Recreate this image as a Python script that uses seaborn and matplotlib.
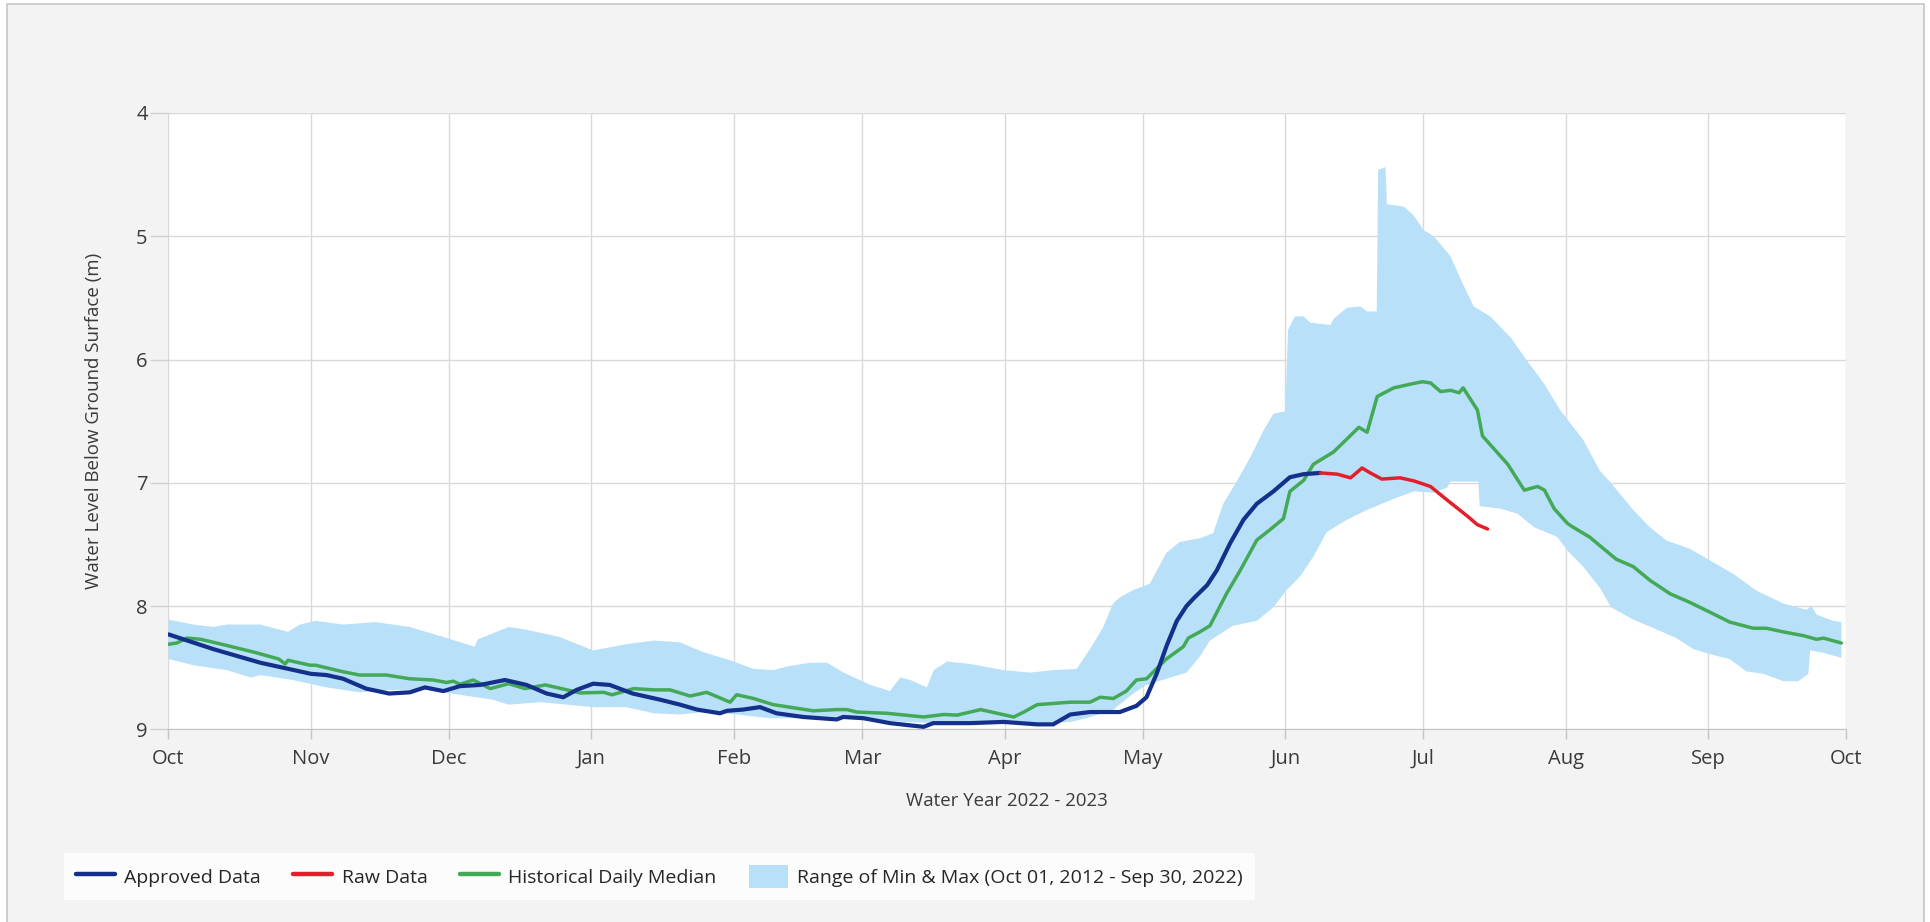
import numpy as np
import pandas as pd
import seaborn as sns
import matplotlib.pyplot as plt
from matplotlib.patches import Rectangle, Patch
from matplotlib.lines import Line2D

# day of water year (0 = Oct 01 2022) and level below ground (m)
approved_day = [0, 9.8, 20, 31, 34.4, 38, 43, 48, 52.5, 55.8, 59.8, 63.4, 67.8, 73.2, 77.9,
                82.3, 85.9, 88.8, 92.4, 96, 101, 107, 111.3, 115, 120, 121.5, 125, 128.7,
                132.3, 138.1, 145.4, 146.8, 151.2, 157, 164.3, 166.4, 174.4, 181.7, 189,
                192.5, 196.2, 200.5, 207, 210.6, 212.8, 215, 217.2, 219.4, 221.5, 223, 226,
                228.1, 231, 233.9, 236.8, 240.4, 244, 247, 250.6]
approved_lvl = [8.23, 8.35, 8.46, 8.55, 8.56, 8.59, 8.67, 8.71, 8.70, 8.66, 8.69, 8.65, 8.64,
                8.60, 8.64, 8.71, 8.74, 8.68, 8.63, 8.64, 8.71, 8.76, 8.80, 8.84, 8.87, 8.85,
                8.84, 8.82, 8.87, 8.90, 8.92, 8.90, 8.91, 8.95, 8.98, 8.95, 8.95, 8.94, 8.96,
                8.96, 8.88, 8.86, 8.86, 8.81, 8.74, 8.55, 8.32, 8.12, 8.00, 7.94, 7.83, 7.71,
                7.49, 7.30, 7.17, 7.07, 6.955, 6.93, 6.92]

raw_day = [250.6, 254.3, 257.2, 259.7, 261.5, 264, 268, 271, 274.6, 278.2, 282.6, 284.8, 287]
raw_lvl = [6.92, 6.93, 6.96, 6.88, 6.92, 6.97, 6.96, 6.985, 7.03, 7.14, 7.27, 7.34, 7.375]

median_day = [0, 1.8, 4, 7, 12.7, 19.2, 24, 25.4, 26, 30.8, 32, 37.6, 41.6, 47.4, 52.5, 57.6,
              60.5, 62, 63.4, 66.3, 70, 74, 77.6, 82, 86.7, 89.6, 94.7, 96.5, 101.2, 105.6,
              109.1, 113.5, 117.1, 122.2, 123.6, 127.3, 131.6, 140.3, 145.4, 147.6, 149.8,
              156.3, 164.3, 168.7, 171.6, 176.7, 183.9, 186.1, 189, 196.2, 200.5, 202.7,
              205.6, 208.4, 210.6, 212.8, 217.1, 220.8, 221.9, 224.4, 226.6, 230.2, 233.2,
              236.8, 239.7, 242.6, 244, 247, 249.1, 253.5, 256.4, 259, 260.8, 263, 266.6,
              270.2, 272.8, 274.6, 276.8, 279, 280.8, 281.7, 284.8, 285.9, 291.4, 295,
              297.9, 299.4, 301.5, 304.4, 305.6, 309.2, 315, 318.7, 322.3, 326.7, 331,
              335.4, 339.7, 344.8, 347.7, 351.4, 355.7, 358.6, 360.1, 364]
median_lvl = [8.31, 8.30, 8.26, 8.27, 8.32, 8.38, 8.43, 8.47, 8.44, 8.48, 8.48, 8.53, 8.56,
              8.56, 8.59, 8.60, 8.62, 8.61, 8.635, 8.60, 8.67, 8.63, 8.67, 8.64, 8.68, 8.705,
              8.70, 8.72, 8.67, 8.68, 8.68, 8.73, 8.70, 8.78, 8.72, 8.75, 8.80, 8.85, 8.84,
              8.84, 8.86, 8.87, 8.90, 8.88, 8.885, 8.84, 8.90, 8.86, 8.80, 8.78, 8.78, 8.74,
              8.75, 8.69, 8.60, 8.59, 8.43, 8.33, 8.26, 8.21, 8.16, 7.90, 7.71, 7.465, 7.38,
              7.29, 7.07, 6.98, 6.85, 6.75, 6.645, 6.55, 6.59, 6.30, 6.23, 6.20, 6.18, 6.19,
              6.26, 6.25, 6.27, 6.23, 6.41, 6.62, 6.85, 7.06, 7.03, 7.06, 7.21, 7.33, 7.36,
              7.44, 7.62, 7.68, 7.79, 7.90, 7.97, 8.05, 8.13, 8.18, 8.18, 8.21, 8.24, 8.27,
              8.26, 8.30]

# shallowest level of the 10-year record (top edge of band)
min_day = [0, 5.4, 9.8, 12.7, 20, 26, 28.6, 32, 38, 45, 52.5, 59.7, 66.6, 67.3, 74, 77.6, 85,
           92.4, 99.6, 105.6, 111.3, 116.4, 122.2, 127.3, 131.6, 134.6, 139.6, 143.3, 146.9,
           152.7, 157, 159.2, 161.4, 165, 166.5, 169.4, 174.4, 181.7, 187.5, 192.5, 197.6,
           200.5, 203.4, 205.5, 207, 209.9, 213.5, 217.1, 220, 224.4, 227.3, 229.5, 232.4,
           235.3, 238.2, 240.4, 243, 243.6, 245.1, 247, 248.4, 252.8, 253.5, 256.4, 259.3,
           260.8, 262.9, 263.2, 264.8, 265.1, 268.8, 270.9, 273.1, 275.3, 278.9, 281.8, 284,
           287.6, 292, 295.6, 299.2, 302.8, 305.7, 307.8, 311.4, 313.6, 318.7, 322.3, 326,
           331, 335.4, 340.5, 345.5, 351.4, 356.4, 357.5, 358.6, 362.2, 364]
min_lvl = [8.11, 8.15, 8.17, 8.15, 8.15, 8.21, 8.15, 8.12, 8.15, 8.13, 8.17, 8.25, 8.33, 8.27,
           8.17, 8.19, 8.25, 8.36, 8.31, 8.28, 8.295, 8.375, 8.44, 8.51, 8.52, 8.49, 8.46,
           8.46, 8.54, 8.64, 8.69, 8.58, 8.60, 8.66, 8.52, 8.45, 8.47, 8.52, 8.54, 8.52, 8.51,
           8.35, 8.17, 7.98, 7.93, 7.87, 7.82, 7.57, 7.48, 7.45, 7.41, 7.17, 6.99, 6.80, 6.58,
           6.44, 6.42, 5.76, 5.65, 5.65, 5.70, 5.72, 5.67, 5.58, 5.57, 5.61, 5.61, 4.46, 4.44,
           4.74, 4.76, 4.83, 4.95, 5.00, 5.16, 5.40, 5.57, 5.65, 5.82, 6.01, 6.19, 6.41, 6.55,
           6.65, 6.90, 6.99, 7.22, 7.36, 7.47, 7.535, 7.63, 7.74, 7.875, 7.98, 8.03, 8.00,
           8.07, 8.12, 8.13]

# deepest level of the 10-year record (bottom edge of band)
max_day = [0, 5.4, 12.7, 18, 20, 27, 34.4, 41.6, 49, 56, 63.4, 70.6, 74, 81, 92.4, 99.6,
           105.6, 111.3, 116.4, 123.6, 130.9, 145.4, 152.7, 160, 167.2, 181.7, 189, 196.2,
           199.8, 205.6, 209.9, 212.8, 217.1, 221.5, 224.4, 226.6, 231.6, 236.8, 240.4,
           243.3, 246.2, 249.1, 252, 256.4, 260.8, 266.6, 271, 275.3, 278.2, 278.9, 285,
           285.3, 289.8, 293.5, 297.1, 302.2, 304.4, 307.8, 311.4, 313.9, 318.7, 323.8,
           328.1, 331.8, 335.4, 339.7, 343.3, 347, 351.4, 354.6, 356.8, 357.2, 360.1, 364]
max_lvl = [8.43, 8.48, 8.52, 8.58, 8.56, 8.60, 8.66, 8.70, 8.68, 8.68, 8.72, 8.76, 8.80,
           8.78, 8.82, 8.82, 8.87, 8.88, 8.86, 8.88, 8.91, 8.91, 8.92, 8.94, 8.95, 8.95,
           8.96, 8.94, 8.91, 8.84, 8.71, 8.64, 8.59, 8.54, 8.41, 8.28, 8.16, 8.12, 8.01,
           7.87, 7.76, 7.60, 7.40, 7.30, 7.22, 7.13, 7.07, 7.08, 7.04, 6.99, 6.99, 7.19,
           7.21, 7.25, 7.36, 7.44, 7.55, 7.68, 7.85, 8.01, 8.11, 8.19, 8.26, 8.35, 8.39,
           8.43, 8.53, 8.55, 8.61, 8.61, 8.55, 8.36, 8.38, 8.42]

months = pd.date_range("2022-10-01", "2023-10-01", freq="MS")
month_pos = [(m - months[0]).days for m in months]
month_lbl = [m.strftime("%b") for m in months]

NAVY = "#14308a"
RED = "#e3202a"
GREEN = "#43a956"
BAND = "#b8e0f8"

sns.set_style("whitegrid")
plt.rcParams["font.family"] = ["Open Sans", "DejaVu Sans"]

fig = plt.figure(figsize=(19.31, 9.22), dpi=100, facecolor="white")
fig.patches.append(Rectangle((7 / 1931, -0.02), 1917 / 1931, 1.02 - 4 / 922,
                             transform=fig.transFigure, facecolor="#f3f3f3",
                             edgecolor="#c6c6c6", linewidth=1.2, zorder=-10))
ax = fig.add_axes([168.5 / 1931, 1 - 729.3 / 922, 1677.5 / 1931, 616.3 / 922])
ax.set_facecolor("white")

band_x = list(min_day) + list(max_day[::-1])
band_y = list(min_lvl) + list(max_lvl[::-1])
ax.fill(band_x, band_y, color=BAND, linewidth=0, zorder=1)

sns.lineplot(x=median_day, y=median_lvl, color=GREEN, linewidth=2.5, ax=ax, zorder=3)
sns.lineplot(x=approved_day, y=approved_lvl, color=NAVY, linewidth=3.0, ax=ax, zorder=4)
sns.lineplot(x=raw_day, y=raw_lvl, color=RED, linewidth=2.5, ax=ax, zorder=4)

ax.set_xlim(0, 365)
ax.set_ylim(9, 4)
ax.set_yticks([4, 5, 6, 7, 8, 9])
ax.set_xticks(month_pos)
ax.set_xticklabels(month_lbl)
ax.grid(True, color="#d9d9d9", linewidth=1)
for s in ["top", "right", "left"]:
    ax.spines[s].set_visible(False)
ax.spines["bottom"].set_color("#c4c4c4")
ax.tick_params(axis="x", length=7, width=1, color="#c4c4c4", pad=7, labelsize=14.5,
               labelcolor="#3a3a3a", bottom=True)
ax.tick_params(axis="y", length=13, width=1, color="#d0d0d0", pad=2, labelsize=14.5,
               labelcolor="#3a3a3a", left=True)

ax.set_xlabel("Water Year 2022 - 2023", fontsize=13.4, color="#3a3a3a")
ax.xaxis.set_label_coords(0.5, -0.102)
ax.set_ylabel("Water Level Below Ground Surface (m)", fontsize=13.5, color="#3a3a3a")
ax.yaxis.set_label_coords(-0.039, 0.5)

handles = [Line2D([], [], color=NAVY, linewidth=3.2),
           Line2D([], [], color=RED, linewidth=3.2),
           Line2D([], [], color=GREEN, linewidth=3.2),
           Patch(facecolor=BAND, edgecolor="none")]
labels = ["Approved Data", "Raw Data", "Historical Daily Median",
          "Range of Min & Max (Oct 01, 2012 - Sep 30, 2022)"]
fig.legend(handles, labels, loc="lower left", bbox_to_anchor=(64 / 1931, 1 - 900 / 922),
           ncol=4, frameon=True, facecolor="white", edgecolor="none", fancybox=False,
           fontsize=14, handlelength=2.0, handleheight=1.5, columnspacing=1.65,
           handletextpad=0.5, borderpad=0.6, borderaxespad=0, labelcolor="#262626")

fig.savefig("out.png", dpi=100, facecolor=fig.get_facecolor())
